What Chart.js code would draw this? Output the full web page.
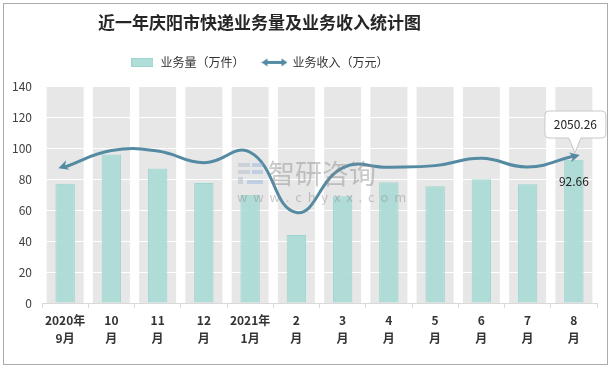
<!DOCTYPE html>
<html lang="zh">
<head>
  <meta charset="UTF-8" />
  <title>近一年庆阳市快递业务量及业务收入统计图</title>
  <script src="https://cdn.jsdelivr.net/npm/chart.js"></script>
  <style>
    html, body { margin: 0; padding: 0; background: #fff; }
    #wrap { width: 614px; height: 370px; }
  </style>
</head>
<body>
  <div id="wrap"><canvas id="grafico"></canvas></div>

  <script>
    // datos
    const categorias = [['2020年', '9月'], ['10', '月'], ['11', '月'], ['12', '月'], ['2021年', '1月'], ['2', '月'],
                        ['3', '月'], ['4', '月'], ['5', '月'], ['6', '月'], ['7', '月'], ['8', '月']];
    const volumen = [77, 96, 87, 77.5, 70, 44, 69, 78, 75.5, 80, 76.8, 92.66];   // 业务量（万件）
    const ingresos = [1897, 2126, 2121, 1957, 2102, 1262, 1884, 1893, 1916, 2018, 1897, 2050.26]; // 业务收入（万元）
    const ticksY = [0, 20, 40, 60, 80, 100, 120, 140];

    const FUENTE = "'Noto Sans CJK SC', 'Noto Sans', sans-serif";
    const TEAL = 'rgba(168,218,213,0.9)';
    const TEAL_BORDE = '#9fd5cf';
    const AZUL = '#548ba3';
    const DESPLAZAR = -40; // título y leyenda van a la izquierda del centro

    // iconos de la leyenda
    function iconoBarra() {
      const c = document.createElement('canvas');
      c.width = 22; c.height = 9;
      const g = c.getContext('2d');
      g.fillStyle = TEAL; g.fillRect(0, 0, 22, 9);
      g.strokeStyle = TEAL_BORDE; g.strokeRect(0.5, 0.5, 21, 8);
      return c;
    }
    function iconoLinea() {
      const c = document.createElement('canvas');
      c.width = 26; c.height = 9;
      const g = c.getContext('2d');
      g.strokeStyle = AZUL; g.fillStyle = AZUL; g.lineWidth = 3;
      g.beginPath(); g.moveTo(4, 4.5); g.lineTo(22, 4.5); g.stroke();
      g.beginPath(); g.moveTo(0, 4.5); g.lineTo(6, 0.5); g.lineTo(6, 8.5); g.closePath(); g.fill();
      g.beginPath(); g.moveTo(26, 4.5); g.lineTo(20, 0.5); g.lineTo(20, 8.5); g.closePath(); g.fill();
      return c;
    }

    function flecha(ctx, x, y, ang) {
      ctx.save();
      ctx.translate(x, y);
      ctx.rotate(ang);
      ctx.beginPath();
      ctx.moveTo(4, 0);
      ctx.lineTo(-6, -5);
      ctx.lineTo(-3, 0);
      ctx.lineTo(-6, 5);
      ctx.closePath();
      ctx.fill();
      ctx.restore();
    }

    const ajusteCabecera = {
      id: 'ajusteCabecera',
      beforeInit(chart) {
        const fit = chart.legend.fit;
        chart.legend.fit = function () { fit.call(this); this.height += 8; };
      },
      afterLayout(chart) {
        [chart.titleBlock, chart.legend].forEach(b => { b.left += DESPLAZAR; b.right += DESPLAZAR; });
      }
    };

    const fondoColumnas = {
      id: 'fondoColumnas',
      beforeDraw(chart) {
        const { ctx, chartArea, scales } = chart;
        const ancho = scales.x.width / categorias.length * 0.8;
        ctx.save();
        ctx.fillStyle = '#e7e7e7';
        categorias.forEach((_, i) => {
          const x = scales.x.getPixelForValue(i);
          ctx.fillRect(x - ancho / 2, chartArea.top, ancho, chartArea.bottom - chartArea.top);
        });
        ctx.restore();
      }
    };

    const extras = {
      id: 'extras',
      afterDatasetsDraw(chart) {
        const { ctx } = chart;
        // marca de agua
        ctx.save();
        ctx.globalAlpha = 0.45;
        ctx.fillStyle = '#8a8a8a';
        ctx.font = '27px ' + FUENTE;
        ctx.textBaseline = 'middle';
        ctx.fillText('智研咨询', 268, 174);
        ctx.font = '13px ' + FUENTE;
        ctx.fillText('w  w  w  .  c  h  y  x  x  .  c  o  m', 237, 197);
        ctx.fillStyle = '#a9b6c8';
        ctx.fillRect(238, 163, 12, 4);
        ctx.fillRect(238, 170, 12, 4);
        ctx.fillRect(238, 177, 5, 7);
        ctx.fillStyle = '#8fb1d9';
        ctx.fillRect(252, 163, 11, 4);
        ctx.fillRect(252, 170, 11, 4);
        ctx.fillRect(247, 180, 16, 4);
        ctx.restore();

        // flechas de la línea
        const meta = chart.getDatasetMeta(1);
        const pts = meta.data;
        const p0 = pts[0], p1 = pts[pts.length - 1];
        ctx.save();
        ctx.fillStyle = AZUL;
        flecha(ctx, p0.x - 3, p0.y, Math.atan2(p0.y - p0.cp2y, p0.x - p0.cp2x));
        flecha(ctx, p1.x + 2, p1.y, Math.atan2(p1.y - p1.cp1y, p1.x - p1.cp1x));
        ctx.restore();

        // globo con el último ingreso
        const bx = p1.x - 29, by = p1.y - 45, bw = 61, bh = 27;
        ctx.save();
        ctx.fillStyle = '#fff';
        ctx.strokeStyle = '#c8c8c8';
        ctx.lineWidth = 1;
        ctx.beginPath();
        const r = 4;
        ctx.moveTo(bx + r, by);
        ctx.lineTo(bx + bw - r, by);
        ctx.quadraticCurveTo(bx + bw, by, bx + bw, by + r);
        ctx.lineTo(bx + bw, by + bh - r);
        ctx.quadraticCurveTo(bx + bw, by + bh, bx + bw - r, by + bh);
        ctx.lineTo(bx + 36, by + bh);
        ctx.lineTo(p1.x + 1, p1.y - 3);
        ctx.lineTo(bx + 24, by + bh);
        ctx.lineTo(bx + r, by + bh);
        ctx.quadraticCurveTo(bx, by + bh, bx, by + bh - r);
        ctx.lineTo(bx, by + r);
        ctx.quadraticCurveTo(bx, by, bx + r, by);
        ctx.closePath();
        ctx.fill();
        ctx.stroke();
        ctx.fillStyle = '#222';
        ctx.font = '12px ' + FUENTE;
        ctx.textAlign = 'center';
        ctx.textBaseline = 'middle';
        ctx.fillText(ingresos[ingresos.length - 1].toFixed(2), bx + bw / 2, by + bh / 2);

        // etiqueta de la última barra
        const barra = chart.getDatasetMeta(0).data[volumen.length - 1];
        ctx.fillText(volumen[volumen.length - 1].toFixed(2), barra.x, barra.y + 22);
        ctx.restore();

        // borde exterior
        ctx.save();
        ctx.strokeStyle = '#ababab';
        ctx.lineWidth = 1;
        ctx.strokeRect(3.5, 3.5, 604, 361);
        ctx.restore();
      }
    };

    new Chart(document.getElementById('grafico').getContext('2d'), {
      data: {
        labels: categorias,
        datasets: [{
          type: 'bar',
          label: '业务量（万件）',
          data: volumen,
          backgroundColor: TEAL,
          borderColor: TEAL_BORDE,
          borderWidth: 1,
          categoryPercentage: 1,
          barPercentage: 0.42,
          yAxisID: 'y',
          order: 2
        }, {
          type: 'line',
          label: '业务收入（万元）',
          data: ingresos,
          borderColor: AZUL,
          borderWidth: 3,
          tension: 0.45,
          pointRadius: 0,
          fill: false,
          yAxisID: 'y1',
          order: 1
        }]
      },
      options: {
        responsive: true,
        maintainAspectRatio: false,
        animation: false,
        layout: { padding: { left: 2, right: 17, top: 0, bottom: 4 } },
        plugins: {
          title: {
            display: true,
            text: '近一年庆阳市快递业务量及业务收入统计图',
            color: '#262626',
            font: { family: FUENTE, size: 17, weight: 'bold' },
            padding: { top: 12, bottom: 6 }
          },
          legend: {
            labels: {
              usePointStyle: true,
              pointStyleWidth: 24,
              padding: 18,
              color: '#333',
              font: { family: FUENTE, size: 12 },
              generateLabels: () => [
                { text: '业务量（万件）', pointStyle: iconoBarra(), datasetIndex: 0, fontColor: '#333', lineWidth: 0 },
                { text: '业务收入（万元）', pointStyle: iconoLinea(), datasetIndex: 1, fontColor: '#333', lineWidth: 0 }
              ]
            }
          },
          tooltip: { enabled: false }
        },
        scales: {
          x: {
            grid: { offset: true, drawOnChartArea: false, drawTicks: true, tickLength: 5, color: '#d9d9d9' },
            border: { display: true, color: '#d9d9d9' },
            ticks: { color: '#333', font: { family: FUENTE, size: 12, weight: 'bold', lineHeight: 1.55 }, maxRotation: 0, autoSkip: false, padding: 3 },
            afterFit: (s) => { s.height = 63; }
          },
          y: {
            min: 0,
            max: 140,
            afterBuildTicks: (s) => { s.ticks = ticksY.map(v => ({ value: v })); },
            grid: { color: '#ffffff', lineWidth: 1, drawTicks: false },
            border: { display: false },
            ticks: { color: '#404040', font: { family: FUENTE, size: 12 }, padding: 10 },
            afterFit: (s) => { s.width = 40; }
          },
          y1: {
            display: false,
            min: 0,
            max: 3021
          }
        }
      },
      plugins: [ajusteCabecera, fondoColumnas, extras]
    });
  </script>
</body>
</html>
